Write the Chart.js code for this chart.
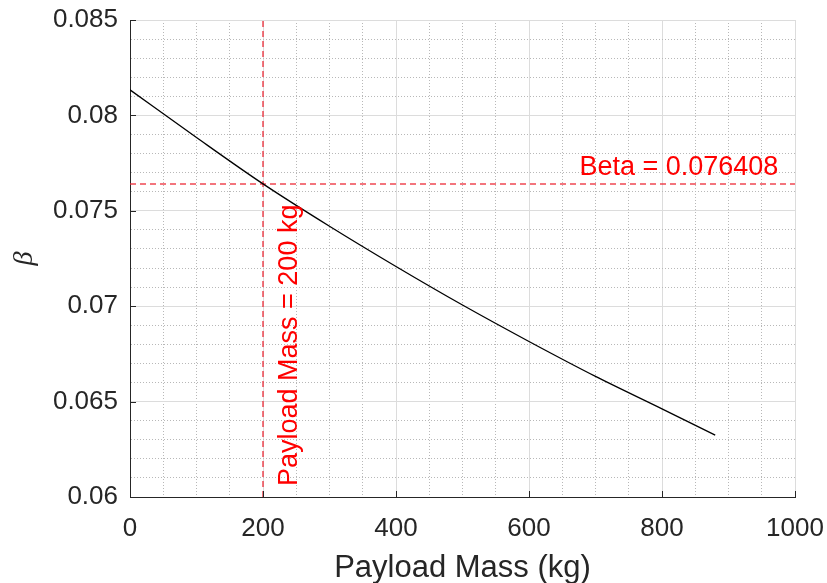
<!DOCTYPE html>
<html>
<head>
<meta charset="utf-8">
<script src="https://cdn.jsdelivr.net/npm/chart.js@4.4.1/dist/chart.umd.min.js"></script>
<style>
  html, body { margin: 0; padding: 0; background: #fff; }
</style>
</head>
<body>
<canvas id="betaChart" width="827" height="583"></canvas>
<script>
// ---- data ----
const payloadMass = [0, 100, 200, 300, 400, 500, 600, 700, 800, 880];
const betaValues  = [0.08134, 0.07884, 0.07641, 0.07419, 0.07208, 0.07006, 0.06815, 0.06632, 0.06462, 0.06324];

// design point marked with the red dashed lines
const markMass = 200;
const markBeta = 0.076408;

// tick labels (major ticks only, minor ticks just get grid lines)
const xTickLabels = ['0', '200', '400', '600', '800', '1000'];
const yTickLabels = ['0.06', '0.065', '0.07', '0.075', '0.08', '0.085'];

const axisColor = '#262626';
const red = 'rgba(236,40,52,0.85)';

function labelFor(list, v) {
  const hit = list.find(l => Math.abs(Number(l) - v) < 1e-9);
  return hit === undefined ? '' : hit;
}
const isMajorX = v => labelFor(xTickLabels, v) !== '';
const isMajorY = v => labelFor(yTickLabels, v) !== '';

// inward tick marks + text annotations (MATLAB look)
const extrasPlugin = {
  id: 'extras',
  afterDatasetsDraw(chart) {
    const { ctx } = chart;
    const xs = chart.scales.x, ys = chart.scales.y;
    ctx.save();
    ctx.strokeStyle = axisColor;
    ctx.lineWidth = 1;
    ctx.beginPath();
    xTickLabels.forEach(l => {
      const px = Math.round(xs.getPixelForValue(Number(l))) + 0.5;
      ctx.moveTo(px, ys.bottom);
      ctx.lineTo(px, ys.bottom - 6);
    });
    yTickLabels.forEach(l => {
      const py = Math.round(ys.getPixelForValue(Number(l))) + 0.5;
      ctx.moveTo(xs.left, py);
      ctx.lineTo(xs.left + 6, py);
    });
    ctx.stroke();

    ctx.fillStyle = '#ff0000';
    ctx.font = '27px "Liberation Sans", Arial, sans-serif';
    // horizontal label
    ctx.textAlign = 'right';
    ctx.textBaseline = 'alphabetic';
    ctx.fillText('Beta = ' + markBeta, xs.getPixelForValue(975), ys.getPixelForValue(markBeta) - 9);
    // vertical label
    ctx.translate(xs.getPixelForValue(markMass) + 34, ys.bottom - 11);
    ctx.rotate(-Math.PI / 2);
    ctx.textAlign = 'left';
    ctx.fillText('Payload Mass = ' + markMass + ' kg', 0, 0);
    ctx.restore();
  }
};

const ctx = document.getElementById('betaChart').getContext('2d');

new Chart(ctx, {
  type: 'line',
  data: {
    datasets: [
      {
        label: 'beta',
        data: payloadMass.map((m, i) => ({ x: m, y: betaValues[i] })),
        borderColor: '#000',
        borderWidth: 1.3,
        pointRadius: 0,
        cubicInterpolationMode: 'monotone',
        order: 0
      },
      {
        label: 'mass line',
        data: [{ x: markMass, y: 0.06 }, { x: markMass, y: 0.085 }],
        borderColor: red,
        borderWidth: 1.5,
        borderDash: [6, 4],
        pointRadius: 0,
        order: 1
      },
      {
        label: 'beta line',
        data: [{ x: 0, y: markBeta }, { x: 1000, y: markBeta }],
        borderColor: red,
        borderWidth: 1.5,
        borderDash: [6, 4],
        pointRadius: 0,
        order: 1
      }
    ]
  },
  options: {
    responsive: false,
    animation: false,
    layout: { padding: { left: 0, top: 20, right: 32, bottom: 0 } },
    plugins: {
      legend: { display: false },
      tooltip: { enabled: false }
    },
    scales: {
      x: {
        type: 'linear',
        min: 0,
        max: 1000,
        // fixed axis band, and let layout.padding alone decide the plot edges
        afterFit: s => { s.height = 86; s.paddingLeft = 0; s.paddingRight = 0; },
        ticks: {
          stepSize: 50,
          autoSkip: false,
          maxRotation: 0,
          padding: 16,
          color: axisColor,
          font: { family: '"Liberation Sans", Arial, sans-serif', size: 26 },
          callback: v => labelFor(xTickLabels, v)
        },
        grid: {
          drawTicks: false,
          lineWidth: 1,
          color: c => (c.tick && isMajorX(c.tick.value)) ? '#dcdcdc' : '#b8b8b8'
        },
        border: {
          color: axisColor,
          width: 1,
          dash: c => (c.tick && !isMajorX(c.tick.value)) ? [1, 2] : []
        },
        title: {
          display: true,
          text: 'Payload Mass (kg)',
          color: axisColor,
          font: { family: '"Liberation Sans", Arial, sans-serif', size: 31 },
          padding: { top: 0, bottom: -4 }
        }
      },
      y: {
        type: 'linear',
        min: 0.06,
        max: 0.085,
        afterFit: s => { s.width = 130; s.paddingTop = 0; s.paddingBottom = 0; },
        ticks: {
          stepSize: 0.001,
          autoSkip: false,
          padding: 12,
          color: axisColor,
          font: { family: '"Liberation Sans", Arial, sans-serif', size: 26 },
          callback: v => labelFor(yTickLabels, v)
        },
        grid: {
          drawTicks: false,
          lineWidth: 1,
          color: c => (c.tick && isMajorY(c.tick.value)) ? '#dcdcdc' : '#b8b8b8'
        },
        border: {
          color: axisColor,
          width: 1,
          dash: c => (c.tick && !isMajorY(c.tick.value)) ? [1, 2] : []
        },
        title: {
          display: true,
          text: 'β',
          color: axisColor,
          font: { family: '"Liberation Serif", serif', size: 28, style: 'italic' },
          padding: { top: 8, bottom: 0 }
        }
      }
    }
  },
  plugins: [extrasPlugin]
});
</script>
</body>
</html>
